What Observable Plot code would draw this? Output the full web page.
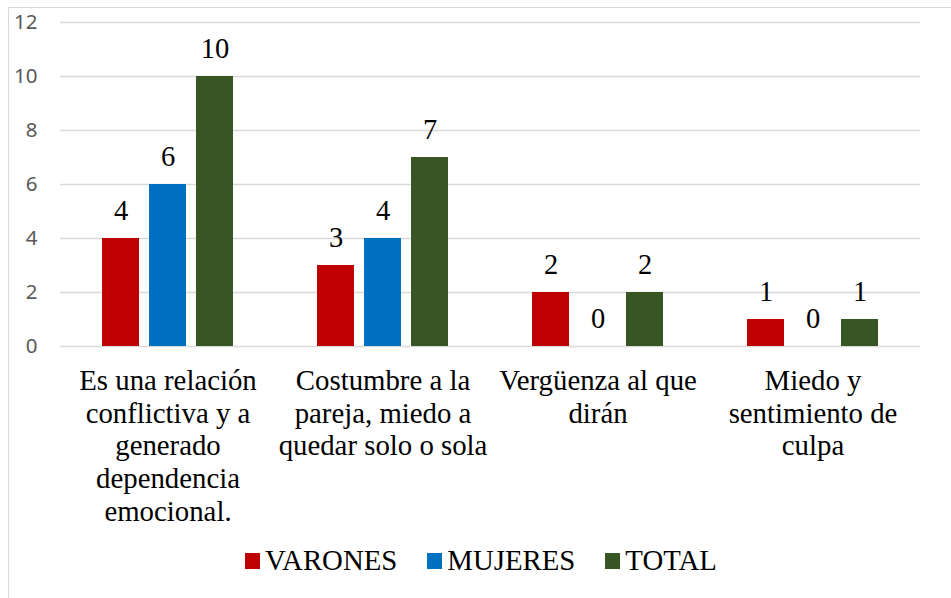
<!DOCTYPE html>
<html>
<head>
<meta charset="utf-8">
<script src="https://cdn.jsdelivr.net/npm/d3@7"></script>
<script src="https://cdn.jsdelivr.net/npm/@observablehq/plot@0.6"></script>
<style>
  html, body { margin: 0; padding: 0; background: #fff; }
  #wrap { position: relative; width: 951px; height: 598px; overflow: hidden; background: #fff; }
  #frame { position: absolute; left: 8px; top: 7px; width: 960px; height: 620px;
           border-left: 1.5px solid #D9D9D9; border-top: 1.5px solid #D9D9D9; }
  #chart { position: absolute; left: 0; top: 0; }
  #legend { position: absolute; left: 245px; top: 544px; display: flex; align-items: center;
            font-family: "Liberation Serif", "Times New Roman", serif; font-size: 28.8px; color: #000; }
  #legend .item { display: flex; align-items: center; margin-right: 30px; }
  #legend .sw { width: 15px; height: 16px; margin-right: 5px; }
</style>
</head>
<body>
<div id="wrap">
  <div id="frame"></div>
  <div id="chart"></div>
  <div id="legend"></div>
</div>
<script>
const categories = [
  "Es una relación conflictiva y a generado dependencia emocional.",
  "Costumbre a la pareja, miedo a quedar solo o sola",
  "Vergüenza al que dirán",
  "Miedo y sentimiento de culpa"
];
const categoryLabels = [
  "Es una relación\nconflictiva y a\ngenerado\ndependencia\nemocional.",
  "Costumbre a la\npareja, miedo a\nquedar solo o sola",
  "Vergüenza al que\ndirán",
  "Miedo y\nsentimiento de\nculpa"
];
const seriesNames = ["VARONES", "MUJERES", "TOTAL"];
const seriesColors = ["#C00000", "#0070C0", "#375623"];
const varones = [4, 3, 2, 1];
const mujeres = [6, 4, 0, 0];
const total = [10, 7, 2, 1];
const yTicks = [0, 2, 4, 6, 8, 10, 12];

const seriesValues = [varones, mujeres, total];
const data = [];
categories.forEach((c, i) => {
  seriesNames.forEach((s, j) => {
    data.push({cat: c, series: s, value: seriesValues[j][i]});
  });
});
const labelOf = new Map(categories.map((c, i) => [c, categoryLabels[i]]));

const serif = "Liberation Serif, Times New Roman, serif";

const chart = Plot.plot({
  width: 951,
  height: 530,
  marginLeft: 60,
  marginRight: 31,
  marginTop: 22,
  marginBottom: 184,
  style: {background: "transparent", overflow: "visible"},
  fx: {domain: categories, paddingInner: 0, paddingOuter: 0, label: null},
  x: {domain: seriesNames, paddingInner: 0.214, paddingOuter: 0.86, axis: null},
  y: {domain: [0, 12], axis: null},
  color: {domain: seriesNames, range: seriesColors},
  marks: [
    Plot.gridY(yTicks, {stroke: "#D9D9D9", strokeOpacity: 1, strokeWidth: 1.5}),
    Plot.axisY(yTicks, {tickSize: 0, tickPadding: 23, fontSize: 20.5, fill: "#595959",
                        fontFamily: "Noto Sans, Liberation Sans, sans-serif", label: null}),
    Plot.axisFx({anchor: "bottom", tickSize: 0, tickPadding: 20, fontSize: 28.8,
                 fontFamily: serif, fill: "#000", lineHeight: 1.14,
                 tickFormat: d => labelOf.get(d), label: null}),
    Plot.barY(data, {fx: "cat", x: "series", y: "value", fill: "series"}),
    Plot.text(data, {fx: "cat", x: "series", y: "value", text: d => String(d.value),
                     dy: -28, fontSize: 28.5, fontFamily: serif, fill: "#000"})
  ]
});
document.getElementById("chart").appendChild(chart);

const legend = document.getElementById("legend");
seriesNames.forEach((s, i) => {
  const item = document.createElement("div");
  item.className = "item";
  const sw = document.createElement("div");
  sw.className = "sw";
  sw.style.background = seriesColors[i];
  const t = document.createElement("span");
  t.textContent = s;
  item.appendChild(sw);
  item.appendChild(t);
  legend.appendChild(item);
});
</script>
</body>
</html>
